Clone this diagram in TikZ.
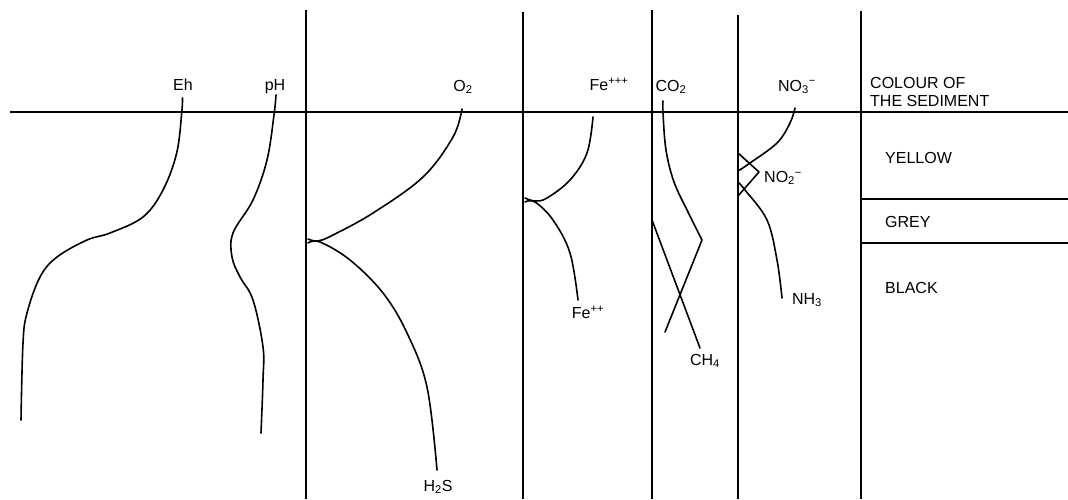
\documentclass[tikz,border=0pt]{standalone}
\usepackage{fontspec}
\setmainfont{Liberation Sans}
\newcommand{\ionsub}[2]{\textsubscript{#1}\textsuperscript{#2}}
\begin{document}
\begin{tikzpicture}[x=1pt,y=-1pt,
  frame/.style={line width=2.1pt},
  curve/.style={line width=1.6pt, line cap=round, line join=round},
  lbl/.style={inner sep=0pt, font=\fontsize{16}{18}\selectfont},
]
\useasboundingbox (0,0) rectangle (1068,499);
% frame
\draw[frame] (10,112) -- (1068,112);
\foreach \x/\t in {306/10, 523/12, 652/10, 738/15, 861/11}
  \draw[frame] (\x,\t) -- (\x,499);
\draw[frame] (861,199) -- (1068,199);
\draw[frame] (861,243) -- (1068,243);

% Eh
\draw[curve] plot[smooth, tension=0.6] coordinates {(182.5,98) (181.7,113) (176.7,153) (163,190) (143,217) (110,233) (87,240) (57,257) (40,277) (27,313) (23,343) (21,420)};
% pH
\draw[curve] plot[smooth, tension=0.6] coordinates {(276,95) (274,115) (267,160) (253,200) (233,233) (232,257) (240,277) (253,300) (263,347) (263,380) (261,433)};
% O2
\draw[curve] plot[smooth, tension=0.6] coordinates {(462,109) (453,137) (423,177) (373,213) (333,235) (318,241) (308,239)};
% H2S
\draw[curve] plot[smooth, tension=0.6] coordinates {(308,243) (320,242) (350,260) (383,293) (407,333) (427,387) (437,470)};
% Fe+++
\draw[curve] plot[smooth, tension=0.6] coordinates {(593,117) (587,153) (570,180) (547,198) (535,201) (525,198)};
% Fe++
\draw[curve] plot[smooth, tension=0.6] coordinates {(525,202) (535,202) (553,220) (570,253) (578,300)};
% CO2
\draw[curve] plot[smooth, tension=0.6] coordinates {(663,101) (663,113) (666,150) (674,182) (688,212) (702,240)} -- (665,332);
% CH4
\draw[curve] (652,220) -- (700,348);
% NO3
\draw[curve] plot[smooth, tension=0.6] coordinates {(795,108) (790,123) (777,143) (750,163) (738,171)};
\draw[curve] (738,153) -- (759,172) -- (738,196);
% NH3
\draw[curve] plot[smooth, tension=0.6] coordinates {(738,182) (745,190) (767,220) (777,260) (782,298)};

% labels
\node[lbl] (eh) at (183,85) {Eh};
\node[lbl] (ph) at (275,87) {pH};
\node[lbl] (o2) at (463,87) {O\textsubscript{2}};
\node[lbl] (fe3) at (609,84) {Fe\textsuperscript{+++}};
\node[lbl] (co2) at (671,87) {CO\textsubscript{2}};
\node[lbl] (no3) at (797,87) {NO\ionsub{3}{−}};
\node[lbl, anchor=west] (no2) at (764,178) {NO\ionsub{2}{−}};
\node[lbl] (fe2) at (588,312) {Fe\textsuperscript{++}};
\node[lbl] (nh3) at (807,300) {NH\textsubscript{3}};
\node[lbl] (ch4) at (705,361) {CH\textsubscript{4}};
\node[lbl] (h2s) at (438,487) {H\textsubscript{2}S};
\node[lbl, anchor=west, align=left] (col) at (870,92) {COLOUR OF\\THE SEDIMENT};
\node[lbl, anchor=west] (yel) at (885,158) {YELLOW};
\node[lbl, anchor=west] (gre) at (885,222) {GREY};
\node[lbl, anchor=west] (bla) at (885,288) {BLACK};
\end{tikzpicture}
\end{document}
